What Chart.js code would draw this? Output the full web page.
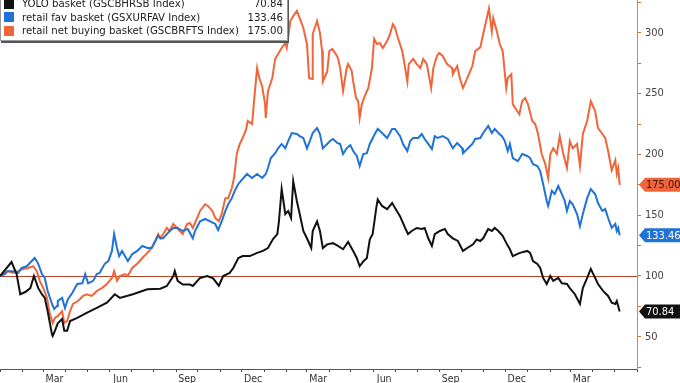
<!DOCTYPE html>
<html>
<head>
<meta charset="utf-8">
<script src="https://cdn.jsdelivr.net/npm/chart.js@4.4.0/dist/chart.umd.min.js"></script>
<style>
html, body { margin: 0; padding: 0; background: #fff; }
#wrap { position: relative; width: 680px; height: 383px; overflow: hidden; }
#legend {
  position: absolute; left: 0; top: -5px; width: 286px;
  background: #fff; border: 1px solid #9a9a9a; box-shadow: 1px 2px 0 #555;
  font: 11.3px "DejaVu Sans Condensed", sans-serif; color: #222; padding: 1px 0 2px 0;
}
.row { display: flex; align-items: center; height: 13.5px; }
.sw { width: 10px; height: 10px; margin: 0 8px 0 3px; }
.name { flex: 1; white-space: nowrap; }
.val { margin-right: 4px; }
</style>
</head>
<body>
<div id="wrap">
  <canvas id="chart" width="680" height="383"></canvas>
  <div id="legend"></div>
</div>
<script>
// days since 2020-01-01, index level
const yoloBasket = [[0,100],[16,111.5],[23,101.6],[28,85],[35,86.8],[42,90],[47,100],[53,90],[58,85],[62,82],[66,71],[72,52],[73,50.7],[76,54.8],[80,61],[86,64.6],[89,55],[93,55],[97,63],[107,65.5],[120,69.6],[134,73.7],[148,78],[159,85],[166,82],[184,85],[204,89],[222,89.5],[231,91.8],[240,100],[242,104],[246,96],[253,93],[263,93],[267,91.8],[277,98.4],[287,100],[295,98],[303,92],[309,100],[318,102.5],[323,106.6],[330,114.8],[336,116.4],[346,116.4],[356,119],[364,120.6],[371,123],[378,130.4],[384,134.5],[386,143.6],[390,171.5],[395,151],[399,153.5],[403,147.7],[406,178],[411,161.7],[415,151],[420,137],[425,131],[431,123],[433,137],[439,145],[443,137],[447,123],[453,126],[461,127],[468,124.7],[475,122],[482,128],[489,120.6],[494,114.8],[498,108],[503,112],[508,114.8],[512,130],[516,134.5],[521,156],[523,163],[529,157.6],[536,155],[543,160],[547,156],[554,149],[561,139.5],[565,134.5],[570,137],[577,139.5],[584,138.7],[588,139.5],[593,131],[598,124.7],[602,134.5],[609,137],[616,138.7],[620,134.5],[627,131],[634,128.8],[641,120.6],[647,123],[655,126],[660,130],[665,128.8],[669,131],[676,138.7],[681,137],[685,139.5],[690,137],[696,133],[702,126],[706,122],[710,116.4],[716,118],[720,119],[730,120.6],[734,119],[738,112.3],[744,109.9],[748,106.6],[752,98.4],[757,93.4],[762,100],[766,96],[773,98.4],[778,94],[785,93.4],[789,90],[796,85],[803,77],[807,90],[813,98.4],[818,105.8],[824,98.4],[828,93.4],[835,87.7],[842,83.6],[847,78],[852,77],[854,79.4],[858,70.84]];

const favBasket = [[0,100],[7,101.6],[10,104],[18,104],[25,102.5],[30,106.6],[37,108],[44,112.3],[48,114.8],[53,110],[58,101.6],[62,98.4],[66,87.7],[72,77],[75,72.9],[79,75.3],[80,79.4],[86,82],[90,73.7],[94,81],[100,86],[107,93.4],[114,94],[118,101.6],[122,94],[129,96],[134,101.6],[138,102.5],[145,110],[150,112.3],[155,120.6],[158,134.5],[162,123],[165,116.4],[169,120.6],[173,116.4],[177,112.3],[183,118],[190,120.6],[197,124.7],[204,123],[210,123],[215,128.8],[219,133],[222,131],[226,131],[231,134.5],[235,137],[240,139.5],[246,139.5],[253,137],[260,138.7],[267,131],[270,137],[277,145],[284,146.9],[291,145],[298,142.8],[302,137.8],[307,145],[312,153.5],[316,159],[321,164],[325,170],[330,175.7],[336,179.8],[342,183.9],[349,180.6],[356,183.9],[363,180.6],[368,183.9],[371,188.8],[375,197],[381,201],[385,205],[390,208.6],[395,205],[399,211],[404,217.6],[411,216.8],[415,215],[420,213.5],[425,205],[429,211],[433,217.6],[439,221.7],[443,216.8],[447,205],[453,208.6],[457,211],[461,212.7],[467,209.4],[471,208.6],[475,200.3],[480,205],[485,207.7],[489,202.8],[494,198.7],[498,190.5],[503,200.3],[508,201],[512,208.6],[519,216.8],[523,221],[529,217.6],[536,213.5],[543,221],[547,221],[554,215],[558,208.6],[564,202.8],[568,211],[572,213.5],[579,213.5],[584,216.8],[588,212.7],[593,208.6],[598,204.4],[602,215],[606,213.5],[613,215],[620,212.7],[627,205],[633,209.4],[640,205],[641,201],[647,204.4],[654,208.6],[658,212.7],[665,213.5],[669,217.6],[676,223.4],[681,217.6],[685,221],[690,217.6],[695,215],[699,211],[703,202.8],[706,208.6],[710,197],[717,194.4],[723,200.3],[730,198.7],[734,197],[738,192],[744,190.5],[748,186.3],[752,175.7],[757,161.7],[759,157.6],[764,170],[768,167.4],[773,174],[778,167.4],[782,161.7],[785,153.5],[789,161.7],[793,159],[799,151],[803,141],[807,151],[813,164],[818,171.5],[824,167.4],[828,160],[834,153.5],[838,155],[842,147.7],[847,139.5],[852,142.8],[854,137],[856,139.5],[858,133.46]];

const netBuyBasket = [[0,100],[7,102.5],[11,104],[18,102.5],[25,104],[32,105.8],[39,106.6],[46,108],[51,104],[55,96],[60,90],[65,82],[69,68.8],[73,61.3],[76,65.5],[80,67],[86,71],[89,61.3],[93,63],[97,71],[101,77],[108,79.4],[115,83.6],[120,85],[127,83.6],[134,87.7],[141,90],[148,93.4],[155,98.4],[158,104],[162,96],[166,100],[173,101.6],[177,100],[183,106.6],[190,110],[197,114.8],[204,119],[210,123],[215,128.8],[219,134.5],[222,131],[226,134.5],[231,139.5],[235,137],[240,142.8],[245,139.5],[249,137],[253,134.5],[259,142.8],[263,143.6],[267,139.5],[273,147.7],[277,153.5],[284,159],[288,157.6],[294,153.5],[298,147.7],[303,145],[307,151],[312,164],[316,164],[321,172.4],[324,180.6],[328,201],[332,208.6],[336,213.5],[341,221],[343,227.5],[349,225],[353,252],[356,271],[359,262.8],[363,256],[367,241.4],[368,230],[371,252],[377,262.8],[381,278.5],[385,282.6],[390,287.5],[395,291.6],[397,287.5],[402,309.7],[406,313.8],[411,318],[415,312],[420,304],[425,290.8],[428,262.8],[432,262],[433,299],[439,309.7],[443,300],[446,285],[447,260],[453,268],[456,285],[460,286.7],[464,283.4],[468,279.3],[471,271],[475,252],[480,271],[482,274.3],[487,268.6],[489,260],[493,246.4],[496,243.8],[498,230],[501,241.4],[505,248],[510,254.6],[515,271],[518,295],[522,290.8],[526,291.6],[530,287.5],[536,293.3],[540,299],[544,307],[547,304],[551,295.7],[557,285],[561,271],[564,260],[566,274.3],[572,278.5],[577,274.3],[582,271],[586,278.5],[591,274.3],[597,254.6],[600,271],[605,281],[608,283.4],[613,281],[619,274.3],[626,271],[627,266],[633,272.7],[637,262],[641,254.6],[647,262.8],[654,272.7],[658,285],[665,288],[669,299],[674,312],[677,320],[681,301],[683,312],[688,301],[692,290.8],[696,285],[701,254.6],[703,262.8],[708,266],[710,241.4],[716,235.7],[719,233],[723,243.8],[727,246.4],[731,241.4],[737,227.5],[741,225],[745,216.8],[750,200.3],[755,192],[759,180.6],[762,200.3],[766,205],[771,200.3],[775,215],[780,200.3],[785,188.8],[789,211],[793,205],[799,208.6],[803,190.5],[807,216.8],[813,227.5],[818,243.8],[824,235.7],[828,221.7],[834,216.8],[838,213.5],[842,202.8],[847,187],[852,195.3],[854,183.9],[856,188.8],[858,175]];

const seriesNames = ['YOLO basket (GSCBHRSB Index)', 'retail fav basket (GSXURFAV Index)', 'retail net buying basket (GSCBRFTS Index)'];
const seriesColors = ['#111111', '#1f72d6', '#f0663a'];
const flagText = ['#ffffff', '#ffffff', '#3a1208'];

const monthLabels = ['Mar', 'Jun', 'Sep', 'Dec', 'Mar', 'Jun', 'Sep', 'Dec', 'Mar'];
const labelMonths = [2, 5, 8, 11, 14, 17, 20, 23, 26];
const yTicks = [25, 50, 75, 100, 125, 150, 175, 200, 225, 250, 275, 300, 325];
const baseLevel = 100;

const seriesData = [yoloBasket, favBasket, netBuyBasket];

// month boundaries in days since 2020-01-01
const dayOf = (m) => (Date.UTC(2020, m, 1) - Date.UTC(2020, 0, 1)) / 86400000;
const monthStarts = [];
for (let m = 0; m <= 29; m++) monthStarts.push(dayOf(m));
const labelPos = {};
labelMonths.forEach((m, i) => { labelPos[(dayOf(m) + dayOf(m + 1)) / 2] = monthLabels[i]; });

// legend
const legend = document.getElementById('legend');
seriesNames.forEach((name, i) => {
  const last = seriesData[i][seriesData[i].length - 1][1];
  const row = document.createElement('div');
  row.className = 'row';
  row.innerHTML = '<span class="sw" style="background:' + seriesColors[i] + '"></span>' +
    '<span class="name">' + name + '</span><span class="val">' + last.toFixed(2) + '</span>';
  legend.appendChild(row);
});

const flagsPlugin = {
  id: 'flags',
  beforeDatasetsDraw(chart) {
    const { ctx, chartArea, scales: { y } } = chart;
    const py = Math.round(y.getPixelForValue(baseLevel)) + 0.5;
    ctx.save();
    ctx.strokeStyle = '#b8442c';
    ctx.lineWidth = 1.2;
    ctx.beginPath();
    ctx.moveTo(chartArea.left, py);
    ctx.lineTo(chartArea.right, py);
    ctx.stroke();
    ctx.restore();
  },
  afterDraw(chart) {
    const { ctx, chartArea, scales: { y } } = chart;
    ctx.save();
    ctx.font = '11px "DejaVu Sans Condensed", sans-serif';
    ctx.textBaseline = 'middle';
    seriesData.forEach((s, i) => {
      const v = s[s.length - 1][1];
      const py = y.getPixelForValue(v);
      const x0 = chartArea.right + 2;
      ctx.fillStyle = seriesColors[i];
      ctx.beginPath();
      ctx.moveTo(x0, py);
      ctx.lineTo(x0 + 6, py - 7);
      ctx.lineTo(680, py - 7);
      ctx.lineTo(680, py + 7);
      ctx.lineTo(x0 + 6, py + 7);
      ctx.closePath();
      ctx.fill();
      ctx.fillStyle = flagText[i];
      ctx.fillText(v.toFixed(2), x0 + 7, py + 0.5);
    });
    ctx.restore();
  }
};

const chart = new Chart(document.getElementById('chart'), {
  type: 'line',
  data: {
    datasets: seriesData.map((s, i) => ({
      label: seriesNames[i],
      data: s.map(([d, v]) => ({ x: d, y: v })),
      borderColor: seriesColors[i],
      borderWidth: 2,
      pointRadius: 0,
      tension: 0
    }))
  },
  options: {
    responsive: false,
    animation: false,
    layout: { padding: 0 },
    plugins: { legend: { display: false }, tooltip: { enabled: false } },
    scales: {
      x: {
        type: 'linear',
        min: 0,
        max: dayOf(29),
        afterBuildTicks: (scale) => {
          const vals = monthStarts.concat(Object.keys(labelPos).map(Number)).sort((a, b) => a - b);
          scale.ticks = vals.map(v => ({ value: v }));
        },
        afterFit: (scale) => { scale.height = 14; scale.paddingLeft = 0; scale.paddingRight = 0; },
        border: { display: true, color: '#555', width: 1 },
        grid: {
          drawOnChartArea: false,
          tickLength: 3,
          tickColor: (c) => (c.tick && monthStarts.includes(c.tick.value)) ? '#444' : 'rgba(0,0,0,0)'
        },
        ticks: {
          autoSkip: false,
          maxRotation: 0,
          padding: 1,
          color: '#333',
          font: { family: '"DejaVu Sans Condensed", sans-serif', size: 10.5 },
          callback: (v) => labelPos[v] || ''
        }
      },
      y: {
        type: 'linear',
        position: 'right',
        min: 23.5,
        max: 327,
        afterBuildTicks: (scale) => {
          scale.ticks = yTicks.filter(v => v >= scale.min && v <= scale.max).map(v => ({ value: v }));
        },
        afterFit: (scale) => { scale.width = 43; scale.paddingTop = 0; scale.paddingBottom = 0; },
        border: { display: true, color: '#c98a62', width: 1 },
        grid: { drawOnChartArea: false, tickLength: 4, tickColor: '#d0703e' },
        ticks: {
          padding: 4,
          color: '#444',
          font: { family: '"DejaVu Sans Condensed", sans-serif', size: 11 },
          callback: (v) => (v % 50 === 0 ? v : '')
        }
      }
    }
  },
  plugins: [flagsPlugin]
});
</script>
</body>
</html>
